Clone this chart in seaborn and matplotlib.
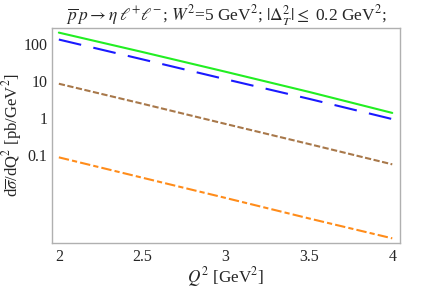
import numpy as np
import pandas as pd
import matplotlib
matplotlib.use("Agg")
import matplotlib.pyplot as plt
import seaborn as sns
from matplotlib.ticker import LogLocator, FixedLocator, NullFormatter

q2 = [2.0, 2.5, 3.0, 3.5, 4.0]
green = [200, 60, 17.5, 5.0, 1.35]
blue = [130, 38, 11, 3.25, 0.92]
brown = [8.3, 2.4, 0.68, 0.195, 0.055]
orange = [0.085, 0.024, 0.0068, 0.0019, 0.00055]

xticks = [2, 2.5, 3, 3.5, 4]
xticklabels = ["2", "2.5", "3", "3.5", "4"]
yticks = [0.1, 1, 10, 100]
yticklabels = ["0.1", "1", "10", "100"]

sns.set_theme(style="white")
plt.rcParams["font.family"] = ["Liberation Serif", "DejaVu Serif"]
plt.rcParams["mathtext.fontset"] = "stix"

fig = plt.figure(figsize=(4.25, 2.89), dpi=100)
ax = fig.add_axes([0.122, 0.159, 0.819, 0.744])

series = [
    (green, "#22ee22", None),
    (blue, "#1a1aff", (11, 6)),
    (brown, "#a8784a", (3, 1.2)),
    (orange, "#ff8c1a", (5, 1.5, 2.5, 1.5)),
]
for vals, col, dash in series:
    df = pd.DataFrame({"x": q2, "y": vals})
    sns.lineplot(data=df, x="x", y="y", color=col, linewidth=1.5, ax=ax)
    ln = ax.lines[-1]
    if dash is not None:
        ln.set_dashes(dash)

ax.set_yscale("log")
ax.set_xlim(1.958, 4.046)
ax.set_ylim(4.1e-4, 266)

ax.xaxis.set_major_locator(FixedLocator(xticks))
ax.set_xticklabels(xticklabels)
ax.xaxis.set_minor_locator(FixedLocator(np.arange(1.9, 4.11, 0.1)))
ax.yaxis.set_major_locator(FixedLocator(yticks))
ax.set_yticklabels(yticklabels)
ax.yaxis.set_minor_locator(LogLocator(base=10, subs=np.arange(2, 10), numticks=20))
ax.yaxis.set_minor_formatter(NullFormatter())

for sp in ax.spines.values():
    sp.set_color("#b0b0b0")
    sp.set_linewidth(1.0)
ax.tick_params(which="both", direction="in", color="#a0a0a0", labelsize=11.5, pad=3)
ax.tick_params(which="major", length=4, width=0.8)
ax.tick_params(which="minor", length=2.5, width=0.7)
ax.tick_params(axis="x", which="minor", length=0)
ax.tick_params(axis="x", which="major", pad=4)

ax.set_xlabel(r"$Q^2$ [GeV$^2$]", fontsize=12.3, labelpad=0)
ax.set_ylabel(r"d$\overline{\sigma}$/dQ$^2$ [pb/GeV$^2$]", fontsize=12, labelpad=0)
ax.set_title(r"$\overline{p}\,p \rightarrow \eta\; \ell^{+}\ell^{-}$; $W^2$=5 GeV$^2$; $|\Delta_T^2|\leq$ 0.2 GeV$^2$;",
             fontsize=12.5, pad=5)

fig.savefig("out.png", dpi=100)
